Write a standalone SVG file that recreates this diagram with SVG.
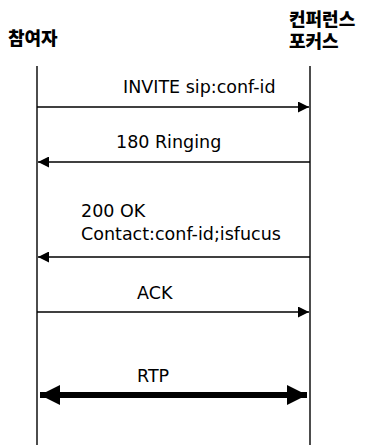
<svg xmlns="http://www.w3.org/2000/svg" width="367" height="448" viewBox="0 0 367 448">
  <style>
    .hdr { font-family: "Noto Sans CJK KR", sans-serif; font-weight: 900; font-size: 18px; fill: #000; }
    .lbl { font-family: "DejaVu Sans", "Liberation Sans", sans-serif; font-size: 17.5px; fill: #000; }
    .life { stroke: #000; stroke-width: 1.4; fill: none; }
    .msg { stroke: #000; stroke-width: 1.4; fill: none; }
    .rtp { stroke: #000; stroke-width: 6; fill: none; }
  </style>
  <defs>
    <marker id="head" viewBox="0 0 10 10" refX="10" refY="5" markerWidth="13" markerHeight="11" markerUnits="userSpaceOnUse" orient="auto-start-reverse">
      <path d="M0,0 L10,5 L0,10 Z" fill="#000"/>
    </marker>
    <marker id="bighead" viewBox="0 0 10 10" refX="10" refY="5" markerWidth="22" markerHeight="20" markerUnits="userSpaceOnUse" orient="auto-start-reverse">
      <path d="M0,0 L10,5 L0,10 Z" fill="#000"/>
    </marker>
  </defs>

  <!-- participant -->
  <g id="participant">
    <text class="hdr" x="8" y="45">참여자</text>
    <line class="life" x1="37" y1="66" x2="37" y2="445"/>
  </g>

  <!-- conference focus -->
  <g id="focus">
    <text class="hdr" x="289" y="26">컨퍼런스</text>
    <text class="hdr" x="289" y="48">포커스</text>
    <line class="life" x1="310" y1="66" x2="310" y2="445"/>
  </g>

  <!-- messages -->
  <g id="connectors">
    <line class="msg" x1="37" y1="107" x2="309" y2="107" marker-end="url(#head)"/>
    <text class="lbl" x="123" y="93">INVITE sip:conf-id</text>

    <line class="msg" x1="310" y1="162" x2="38" y2="162" marker-end="url(#head)"/>
    <text class="lbl" x="116" y="148">180 Ringing</text>

    <line class="msg" x1="310" y1="257" x2="38" y2="257" marker-end="url(#head)"/>
    <text class="lbl" x="81" y="217">200 OK</text>
    <text class="lbl" x="81" y="240">Contact:conf-id;isfucus</text>

    <line class="msg" x1="37" y1="312" x2="309" y2="312" marker-end="url(#head)"/>
    <text class="lbl" x="137" y="299">ACK</text>

    <line class="rtp" x1="40" y1="395" x2="307" y2="395" marker-start="url(#bighead)" marker-end="url(#bighead)"/>
    <text class="lbl" x="137" y="382">RTP</text>
  </g>
</svg>
